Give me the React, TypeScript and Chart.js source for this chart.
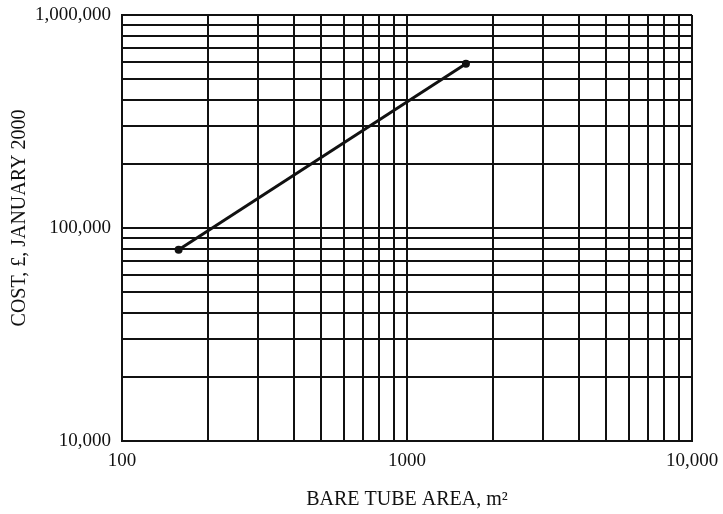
import React, { useEffect, useRef } from "react";
import { Chart, registerables } from "chart.js";

Chart.register(...registerables);

// Bare tube area (m²) and purchased cost (£, January 2000)
const areaM2 = [158, 1610];
const costGBP = [79000, 590000];

// Grid lines at every 1..9 × 10^n within each decade
const xGridValues = [100, 200, 300, 400, 500, 600, 700, 800, 900, 1000, 2000, 3000, 4000, 5000, 6000, 7000, 8000, 9000, 10000];
const yGridValues = [10000, 20000, 30000, 40000, 50000, 60000, 70000, 80000, 90000, 100000, 200000, 300000, 400000, 500000, 600000, 700000, 800000, 900000, 1000000];

// Labelled decades
const xTickValues = [100, 1000, 10000];
const xTickLabels = ["100", "1000", "10,000"];
const yTickValues = [10000, 100000, 1000000];
const yTickLabels = ["10,000", "100,000", "1,000,000"];

const xTitle = "BARE TUBE AREA, m²";
const yTitle = "COST, £, JANUARY 2000";

const FONT = "'Liberation Serif', 'Times New Roman', serif";
const INK = "#111";

export default function App() {
  const canvasRef = useRef<HTMLCanvasElement | null>(null);

  useEffect(() => {
    const canvas = canvasRef.current;
    if (!canvas) return;

    const axisTitles = {
      id: "axisTitles",
      afterDraw(chart: any) {
        const { ctx, chartArea } = chart;
        ctx.save();
        ctx.fillStyle = INK;
        ctx.font = `20px ${FONT}`;
        ctx.textAlign = "center";
        ctx.textBaseline = "middle";
        ctx.fillText(xTitle, (chartArea.left + chartArea.right) / 2, chartArea.bottom + 59);
        ctx.translate(20, (chartArea.top + chartArea.bottom) / 2 - 10);
        ctx.rotate(-Math.PI / 2);
        ctx.fillText(yTitle, 0, 0);
        ctx.restore();
      },
    };

    const chart = new Chart(canvas, {
      type: "scatter",
      data: {
        datasets: [
          {
            data: areaM2.map((a, i) => ({ x: a, y: costGBP[i] })),
            showLine: true,
            borderColor: INK,
            backgroundColor: INK,
            borderWidth: 3,
            pointRadius: 4,
            pointBackgroundColor: INK,
            pointBorderWidth: 0,
          },
        ],
      },
      options: {
        responsive: false,
        animation: false,
        layout: { padding: { top: 15, right: 31, left: 0, bottom: 0 } },
        plugins: { legend: { display: false }, tooltip: { enabled: false } },
        scales: {
          x: {
            type: "logarithmic",
            min: 100,
            max: 10000,
            afterBuildTicks(scale: any) {
              scale.ticks = xGridValues.map((v) => ({ value: v }));
            },
            afterFit(scale: any) {
              scale.height = 73;
              scale.paddingLeft = 0;
              scale.paddingRight = 0;
            },
            grid: { color: INK, lineWidth: 2, drawTicks: false },
            border: { display: true, color: INK, width: 2 },
            ticks: {
              autoSkip: false,
              maxRotation: 0,
              padding: 9,
              color: INK,
              font: { family: FONT, size: 19 },
              callback(value: any) {
                const i = xTickValues.indexOf(Number(value));
                return i >= 0 ? xTickLabels[i] : "";
              },
            },
          },
          y: {
            type: "logarithmic",
            min: 10000,
            max: 1000000,
            afterBuildTicks(scale: any) {
              scale.ticks = yGridValues.map((v) => ({ value: v }));
            },
            afterFit(scale: any) {
              scale.width = 122;
              scale.paddingTop = 0;
              scale.paddingBottom = 0;
            },
            grid: { color: INK, lineWidth: 2, drawTicks: false },
            border: { display: true, color: INK, width: 2 },
            ticks: {
              autoSkip: false,
              padding: 11,
              color: INK,
              font: { family: FONT, size: 19 },
              callback(value: any) {
                const i = yTickValues.indexOf(Number(value));
                return i >= 0 ? yTickLabels[i] : "";
              },
            },
          },
        },
      },
      plugins: [axisTitles],
    });

    return () => chart.destroy();
  }, []);

  return (
    <div style={{ position: "absolute", left: 0, top: 0, width: 723, height: 514, background: "#fff" }}>
      <canvas ref={canvasRef} width={723} height={514} style={{ display: "block" }} />
    </div>
  );
}
